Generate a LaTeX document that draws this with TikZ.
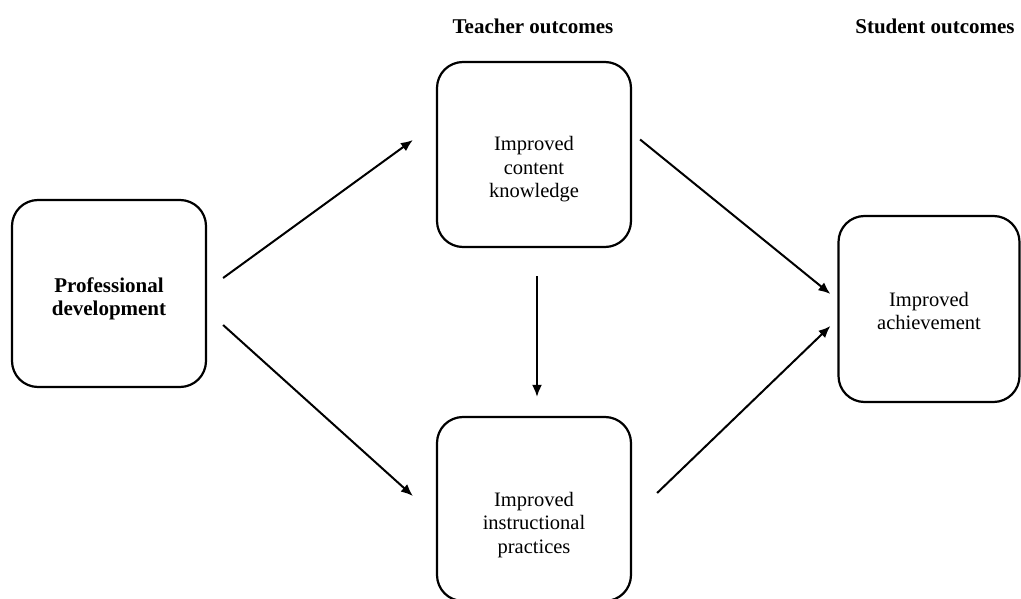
\documentclass[tikz,border=0pt]{standalone}
\usepackage{fontspec}
\setmainfont{Liberation Serif}
\usetikzlibrary{arrows.meta}
\begin{document}
\begin{tikzpicture}[x=1pt,y=-1pt,
  outcomebox/.style={draw, line width=2.2pt, rounded corners=26pt, inner sep=0pt},
  boxtext/.style={align=center, font=\fontsize{20.5}{23.5}\selectfont, inner sep=0pt},
  heading/.style={font=\bfseries\fontsize{21}{24}\selectfont, anchor=base},
  link/.style={line width=2pt, -{Latex[length=12pt,width=10pt]}}]
\useasboundingbox (0,0) rectangle (1021,599);
\clip (0,0) rectangle (1021,599);

% column headings
\node[heading] (th) at (533,34) {Teacher outcomes};
\node[heading] (sh) at (935,34) {Student outcomes};

% boxes, with their texts set a little below the centre
\node[outcomebox, minimum width=194pt, minimum height=187pt,
  label={[boxtext, font=\bfseries\fontsize{21}{23}\selectfont, yshift=-5pt]center:Professional\\development}]
  (pd) at (109,293.5) {};
\node[outcomebox, minimum width=194pt, minimum height=185pt,
  label={[boxtext, yshift=-15pt]center:Improved\\content\\knowledge}]
  (ck) at (534,154.5) {};
\node[outcomebox, minimum width=194pt, minimum height=184pt,
  label={[boxtext, yshift=-16pt]center:Improved\\instructional\\practices}]
  (ip) at (534,509) {};
\node[outcomebox, minimum width=181pt, minimum height=186pt,
  label={[boxtext, yshift=-2pt]center:Improved\\achievement}]
  (ach) at (929,309) {};

% connectors (canvas shifts: positive yshift points up)
\draw[link] ([xshift=16pt,yshift=15.5pt]pd.east) -- ([xshift=-23pt,yshift=14.5pt]ck.west);
\draw[link] ([xshift=16pt,yshift=-31.5pt]pd.east) -- ([xshift=-23pt,yshift=13pt]ip.west);
\draw[link] ([xshift=8pt,yshift=15pt]ck.east) -- ([xshift=-7pt,yshift=15pt]ach.west);
\draw[link] ([xshift=25pt,yshift=16pt]ip.east) -- ([xshift=-7pt,yshift=-17pt]ach.west);
\draw[link] ([xshift=3pt,yshift=-28pt]ck.south) -- ([xshift=3pt,yshift=19pt]ip.north);
\end{tikzpicture}
\end{document}
